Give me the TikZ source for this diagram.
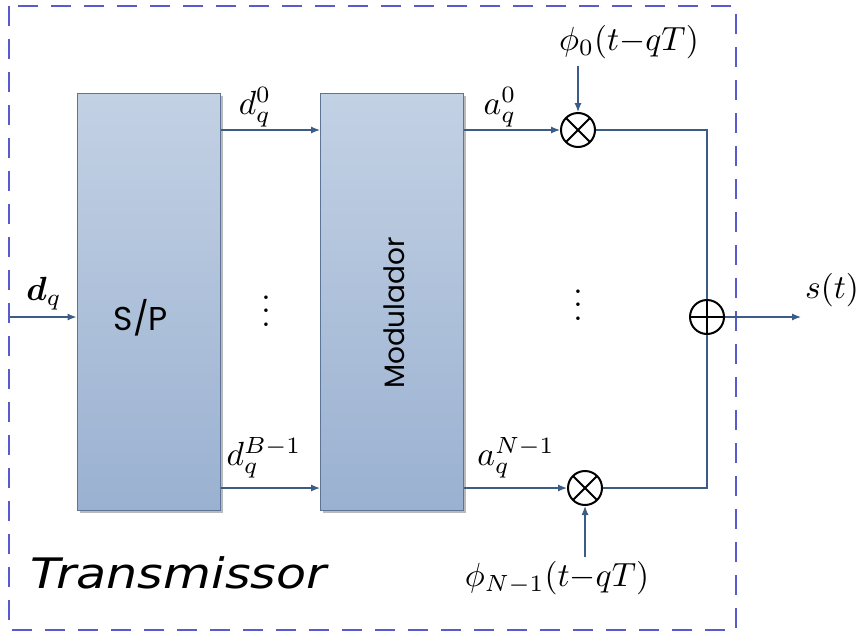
\documentclass[tikz,border=0pt]{standalone}
\usepackage{amsmath,bm}
\usepackage{fontspec}
\newfontfamily\boxfont{Poppins}
\newfontfamily\titlefont{DejaVu Sans}
\usetikzlibrary{arrows.meta,shadows}
\definecolor{linec}{HTML}{3A5C86}
\definecolor{dashc}{HTML}{5A5ACF}
\definecolor{boxtop}{HTML}{C3D1E4}
\definecolor{boxbot}{HTML}{9AB1D1}
\definecolor{boxedge}{HTML}{5C7597}
\tikzset{
  blockbox/.style={draw=boxedge, line width=1pt, top color=boxtop, bottom color=boxbot,
    minimum width=143pt, minimum height=417pt, inner sep=0pt,
    drop shadow={shadow xshift=2.5pt, shadow yshift=-2.5pt, fill=black!45, opacity=0.6}},
  wire/.style={draw=linec, line width=1.2pt},
  arr/.style={wire, -{Latex[length=9pt,width=7pt]}},
  mult/.style={circle, draw=black, line width=2pt, minimum size=34pt, inner sep=0pt,
    path picture={\draw[line width=2pt] (path picture bounding box.north west) -- (path picture bounding box.south east)
      (path picture bounding box.north east) -- (path picture bounding box.south west);}},
  summ/.style={circle, draw=black, line width=2pt, minimum size=34pt, inner sep=0pt,
    path picture={\draw[line width=2pt] (path picture bounding box.north) -- (path picture bounding box.south)
      (path picture bounding box.east) -- (path picture bounding box.west);}},
  lab/.style={font=\fontsize{10}{12}\selectfont, scale=3.35, inner sep=0pt},
}
\begin{document}
\begin{tikzpicture}[x=1pt,y=-1pt]
\useasboundingbox (0,0) rectangle (863,635);
% frame
\draw[dashc, line width=1.8pt, dash pattern=on 20pt off 13pt] (9,6) rectangle (736,630);
% blocks
\node[blockbox] (sp) at (148.5,301.5) {};
\node[font=\boxfont\fontsize{33}{38}\selectfont] (sptext) at (141,318) {S/P};
\node[blockbox] (mod) at (392,301.5) {};
\node[font=\boxfont\fontsize{28}{34}\selectfont, rotate=90] (modtext) at (394,313) {Modulador};
% input
\coordinate (in) at (10,317);
\draw[arr] (in) -- (sp.west |- in);
\node[lab] (dq) at (44,294) {$\bm{d}_q$};
% S/P -> Mod
\coordinate (r0) at (0,130);
\coordinate (r1) at (0,488);
\draw[arr] (sp.east |- r0) -- (mod.west |- r0);
\draw[arr] (sp.east |- r1) -- (mod.west |- r1);
\node[lab] (d0) at (255,107) {$d_q^0$};
\node[lab] (dB) at (264,458) {$d_q^{B-1}$};
\node[lab] (vd1) at (266,301) {$\vdots$};
% multipliers
\node[mult] (m0) at (578,130) {};
\node[mult] (m1) at (585,488) {};
\draw[arr] (mod.east |- m0) -- (m0.west);
\draw[arr] (mod.east |- m1) -- (m1.west);
\node[lab] (a0) at (500,107) {$a_q^0$};
\node[lab] (aN) at (516,458) {$a_q^{N-1}$};
\node[lab] (vd2) at (578,295) {$\vdots$};
% basis functions
\coordinate (p0) at (578,66);
\coordinate (p1) at (585,557);
\draw[arr] (p0) -- (m0.north);
\draw[arr] (p1) -- (m1.south);
\node[lab] (phi0) at (629,42) {$\phi_0(t{-}qT)$};
\node[lab] (phiN) at (557,578) {$\phi_{N-1}(t{-}qT)$};
% sum
\node[summ] (sum) at (707,317) {};
\draw[wire] (m0.east) -| (sum.north);
\draw[wire] (m1.east) -| (sum.south);
\coordinate (out) at (801,317);
\draw[arr] (sum.east) -- (out);
\node[lab] (st) at (832,290) {$s(t)$};
% title
\node[font=\titlefont\fontsize{42}{48}\selectfont\itshape, xscale=1.17, anchor=west, inner sep=0pt] (title) at (30,573) {Transmissor};
\end{tikzpicture}
\end{document}
